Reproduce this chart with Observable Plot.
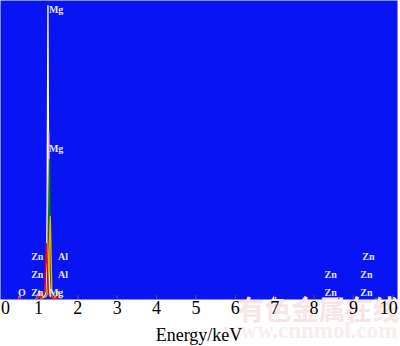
<!DOCTYPE html>
<html>
<head>
<meta charset="utf-8">
<script src="https://cdn.jsdelivr.net/npm/d3@7"></script>
<script src="https://cdn.jsdelivr.net/npm/@observablehq/plot@0.6"></script>
<style>
  html, body { margin: 0; padding: 0; background: #fff; }
  #chart { width: 400px; height: 346px; }
</style>
</head>
<body>
<div id="chart"></div>
<script>
// Energy grid (keV)
const energy = [0, 0.2, 0.48, 0.52, 0.56, 0.9, 0.98, 1.02, 1.06, 1.16, 1.2, 1.22, 1.24, 1.26, 1.28, 1.3, 1.34, 1.44, 1.49, 1.54, 1.7, 2.0, 3, 4, 5, 6, 7, 8, 8.58, 8.63, 8.68, 9.52, 9.57, 9.62, 10.12];
// Counts (relative, 0-1000) for the overlaid spectra
const sWhite  = [0, 0, 0, 14, 0, 0, 14, 32, 10, 14, 30, 330, 983, 330, 30, 14, 10, 6, 30, 4, 0, 0, 0, 0, 0, 0, 0, 0, 0, 6, 0, 0, 5, 0, 0];
const sPink   = [0, 0, 0, 12, 0, 0, 12, 28, 8, 12, 20, 40, 200, 560, 200, 30, 10, 6, 26, 4, 0, 0, 0, 0, 0, 0, 0, 0, 0, 5, 0, 0, 4, 0, 0];
const sGreen  = [0, 0, 0, 10, 0, 0, 12, 24, 8, 10, 16, 30, 100, 300, 470, 100, 8, 6, 24, 4, 0, 0, 0, 0, 0, 0, 0, 0, 0, 5, 0, 0, 4, 0, 0];
const sOrange = [0, 0, 0, 10, 0, 0, 10, 22, 8, 10, 14, 20, 60, 150, 200, 280, 30, 6, 26, 4, 0, 0, 0, 0, 0, 0, 0, 0, 0, 5, 0, 0, 4, 0, 0];
const sRed    = [0, 0, 0, 10, 0, 0, 10, 20, 8, 30, 190, 120, 40, 20, 12, 10, 8, 6, 18, 4, 0, 0, 0, 0, 0, 0, 0, 0, 0, 5, 0, 0, 4, 0, 0];

const seriesNames  = ["white", "pink", "green", "orange", "red"];
const seriesValues = [sWhite, sPink, sGreen, sOrange, sRed];
const seriesColors = ["#f4eeff", "#ff9ce6", "#9ccf88", "#ff9a1a", "#ff3a1a"];

// Element labels: name, energy (keV), level (counts), anchor
const labelNames  = ["Mg", "Mg", "Zn", "Al", "Zn", "Al", "O", "Zn", "Mg", "Zn", "Zn", "Zn", "Zn", "Zn"];
const labelEnergy = [1.24, 1.24, 0.97, 1.47, 0.97, 1.47, 0.58, 0.97, 1.24, 9.38, 8.42, 9.33, 8.42, 9.33];
const labelLevel  = [970, 505, 144, 144, 87, 87, 27, 27, 27, 144, 87, 87, 27, 27];
const labelAnchor = ["start", "start", "middle", "start", "middle", "start", "middle", "middle", "start", "middle", "middle", "middle", "middle", "middle"];

const xTicks = [0, 1, 2, 3, 4, 5, 6, 7, 8, 9, 10];

const lines = [];
seriesNames.forEach((name, i) => {
  energy.forEach((e, j) => lines.push({series: name, energy: e, counts: seriesValues[i][j]}));
});
const labels = labelNames.map((n, i) => ({name: n, energy: labelEnergy[i], level: labelLevel[i], anchor: labelAnchor[i]}));

const serif = "Liberation Serif, Times New Roman, serif";
const labelStyle = {x: "energy", y: "level", text: "name", fill: "#e6e6ee", fontSize: 10, fontWeight: "bold", fontFamily: serif};

const chart = Plot.plot({
  width: 400,
  height: 346,
  marginLeft: 0,
  marginRight: 3,
  marginTop: 0,
  marginBottom: 47,
  x: {domain: [0.035, 10.12]},
  y: {domain: [3, 1000], axis: null},
  color: {domain: seriesNames, range: seriesColors},
  style: {background: "#fff", overflow: "visible"},
  marks: [
    Plot.frame({fill: "#0814f2", stroke: "none"}),
    // watermark
    Plot.text(["有色金属在线"], {frameAnchor: "bottom-right", dx: 2, dy: 20, textAnchor: "end",
      fontSize: 27, fontWeight: "bold", fill: "#f8e6e6", fontFamily: "Noto Sans CJK SC"}),
    Plot.text(["www.cnnmol.com"], {frameAnchor: "bottom-right", dx: 0, dy: 38, textAnchor: "end",
      fontSize: 23, fontWeight: "bold", fill: "#f8ecec", fontFamily: serif}),
    Plot.ruleX(xTicks, {y1: 3, y2: 16, stroke: "#555", strokeWidth: 1}),
    Plot.line(lines, {x: "energy", y: "counts", z: "series", stroke: "series", strokeWidth: 1.3, clip: true}),
    Plot.text(labels.filter(d => d.anchor === "start"), {...labelStyle, textAnchor: "start", dx: 1}),
    Plot.text(labels.filter(d => d.anchor === "middle"), {...labelStyle, textAnchor: "middle"}),
    Plot.text([0], {x: d => d, text: d => String(d), frameAnchor: "bottom", dy: 14, dx: 2, textAnchor: "start",
      fontSize: 18, fill: "#000", fontFamily: serif}),
    Plot.text(xTicks.slice(1, 10), {x: d => d, text: d => String(d), frameAnchor: "bottom", dy: 14,
      fontSize: 18, fill: "#000", fontFamily: serif}),
    Plot.text([10], {x: d => d, text: d => String(d), frameAnchor: "bottom", dy: 14, dx: -4,
      fontSize: 18, fill: "#000", fontFamily: serif}),
    Plot.axisX({ticks: [], tickSize: 0, label: "Energy/keV", labelAnchor: "center", labelArrow: "none",
      labelOffset: 41, fontSize: 18, fontFamily: serif, fill: "#000"})
  ]
});
document.getElementById("chart").appendChild(chart);
</script>
</body>
</html>
